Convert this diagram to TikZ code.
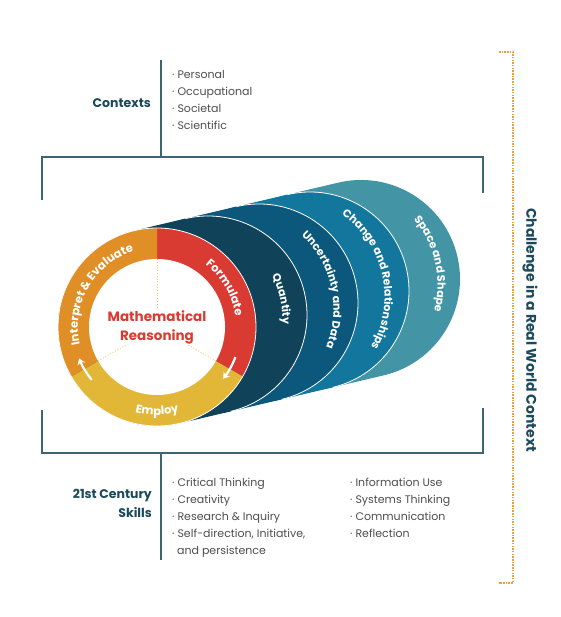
\documentclass[tikz,border=0pt]{standalone}
\usepackage{fontspec}
\setmainfont{Poppins}
\usepackage{xcolor}
\definecolor{frameblue}{HTML}{3E6373}
\definecolor{headteal}{HTML}{1B4A5C}
\definecolor{listgray}{HTML}{4D4D4D}
\definecolor{quantblue}{HTML}{10435A}
\definecolor{uncblue}{HTML}{0B587C}
\definecolor{changeblue}{HTML}{13779D}
\definecolor{spaceblue}{HTML}{4395A6}
\definecolor{formred}{HTML}{D93B33}
\definecolor{employyellow}{HTML}{E2B737}
\definecolor{interporange}{HTML}{DF8F26}
\definecolor{dotorange}{HTML}{E8A040}
\usepackage{tikz}
\usetikzlibrary{arrows.meta, positioning, calc, decorations.text}
\newcommand{\lblfont}{\fontsize{11}{12}\selectfont\bfseries}
\newcommand{\ringfont}{\fontsize{11.5}{12}\selectfont\bfseries}

\begin{document}
\begin{tikzpicture}[
    x=1pt, y=1pt,
    frame/.style={draw=frameblue, line width=1.1pt},
    item/.style={anchor=base west, inner sep=0pt, text=listgray,
                 font=\fontsize{11}{12}\selectfont},
    head/.style={anchor=east, inner sep=0pt, text=headteal, align=right,
                 font=\fontsize{12.5}{19}\selectfont\bfseries},
    dotline/.style={draw=employyellow!80, line width=0.8pt, dotted},
    ringarrow/.style={white, line width=2.2pt, -{Stealth[length=6pt, width=8pt]}},
    lbl/.style={decorate, decoration={text along path, text align=center,
                text color=white}}
  ]
    \useasboundingbox (0,0) rectangle (560,617);

    % disc centres, front to back
    \coordinate (c0) at (157,290);
    \coordinate (c1) at (208,302);
    \coordinate (c2) at (259,314);
    \coordinate (c3) at (310,326);
    \coordinate (c4) at (361,338);
    \coordinate (m1) at ($(c0)!0.5!(c1)$);
    \coordinate (m2) at ($(c1)!0.5!(c2)$);
    \coordinate (m3) at ($(c2)!0.5!(c3)$);
    \coordinate (m4) at ($(c3)!0.5!(c4)$);

    % frame
    \draw[frame] (42,417) -- (42,460) -- (483,460) -- (483,424);
    \draw[frame] (42,207) -- (42,164) -- (483,164) -- (483,209);
    \draw[frame] (161,557) -- (161,460);
    \draw[frame] (161,164) -- (161,57);

    % content layers
    \foreach \bk/\fr/\col in {c3/c4/spaceblue, c2/c3/changeblue,
                              c1/c2/uncblue, c0/c1/quantblue}{
      \fill[\col] ($(\bk)+(103.24:99)$) -- ($(\fr)+(103.24:99)$)
        arc[start angle=103.24, end angle=-76.76, radius=99]
        -- ($(\bk)+(-76.76:99)$)
        arc[start angle=-76.76, end angle=-256.76, radius=99] -- cycle;
    }
    \foreach \fr in {c1,c2,c3}
      \draw[white, line width=0.8pt] ($(\fr)+(103.24:99)$)
        arc[start angle=103.24, end angle=-76.76, radius=99];

    \path[lbl, decoration={text={|\lblfont|Quantity}}]
      ($(m1)+(92.5:100)$) arc[start angle=92.5, end angle=-67.5, radius=100];
    \path[lbl, decoration={text={|\lblfont|Uncertainty and Data}}]
      ($(m2)+(92.5:100)$) arc[start angle=92.5, end angle=-67.5, radius=100];
    \path[lbl, decoration={text={|\lblfont|Change and Relationships}}]
      ($(m3)+(92.5:100)$) arc[start angle=92.5, end angle=-67.5, radius=100];
    \path[lbl, decoration={text={|\lblfont|Space and Shape}}]
      ($(m4)+(92.5:102)$) arc[start angle=92.5, end angle=-67.5, radius=102];

    % reasoning cycle
    \fill[formred] (c0) -- ($(c0)+(90:99)$)
      arc[start angle=90, end angle=-30, radius=99] -- cycle;
    \fill[employyellow] (c0) -- ($(c0)+(-30:99)$)
      arc[start angle=-30, end angle=-150, radius=99] -- cycle;
    \fill[interporange] (c0) -- ($(c0)+(210:99)$)
      arc[start angle=210, end angle=90, radius=99] -- cycle;
    \draw[white, line width=0.8pt] (c0) circle[radius=99];
    \fill[white] (c0) circle[radius=68];
    \foreach \a in {90,-30,210}
      \draw[dotline] (c0) -- ($(c0)+(\a:68)$);

    \path[lbl, decoration={text={|\ringfont|Formulate}}]
      ($(c0)+(90:79)$) arc[start angle=90, end angle=-30, radius=79];
    \path[lbl, decoration={text={|\ringfont|Interpret {\&} Evaluate}}]
      ($(c0)+(210:79)$) arc[start angle=210, end angle=90, radius=79];
    \path[lbl, decoration={text={|\ringfont|Employ}}]
      ($(c0)+(210:88)$) arc[start angle=210, end angle=330, radius=88];

    \draw[ringarrow] ($(c0)+(-21:84)$) arc[start angle=-21, end angle=-38, radius=84];
    \draw[ringarrow] ($(c0)+(219:84)$) arc[start angle=219, end angle=202, radius=84];

    \node[fill=white, inner sep=1pt, align=center, text=formred,
          font=\fontsize{13.5}{19}\selectfont\bfseries] (mr) at (c0)
      {Mathematical\\Reasoning};

    % contexts
    \node[head] (ctx) at (151,514) {Contexts};
    \foreach \t [count=\i] in {Personal, Occupational, Societal, Scientific}
      \node[item] (ctx\i) at (172,555-17*\i) {·\hspace{3pt}\t};

    % skills
    \node[head] (skl) at (152,113.5) {21st Century\\Skills};
    \foreach \t [count=\i] in {Critical Thinking, Creativity, Research \& Inquiry,
                               {Self-direction, Initiative,}}
      \node[item] (skl\i) at (172,147-17*\i) {·\hspace{3pt}\t};
    \node[item] (skl5) at (177,62) {and persistence};
    \foreach \t [count=\i] in {Information Use, Systems Thinking,
                               Communication, Reflection}
      \node[item] (sk\i) at (350,147-17*\i) {·\hspace{3pt}\t};

    % real world context
    \draw[dotorange, line width=1.5pt, dash pattern=on 1.5pt off 1.2pt]
      (499,565) -- (513,565) -- (513,34) -- (499,34);
    \node[rotate=-90, text=headteal, font=\fontsize{14}{16}\selectfont\bfseries]
      (rwc) at (530,287) {Challenge in a Real World Context};
\end{tikzpicture}
\end{document}
